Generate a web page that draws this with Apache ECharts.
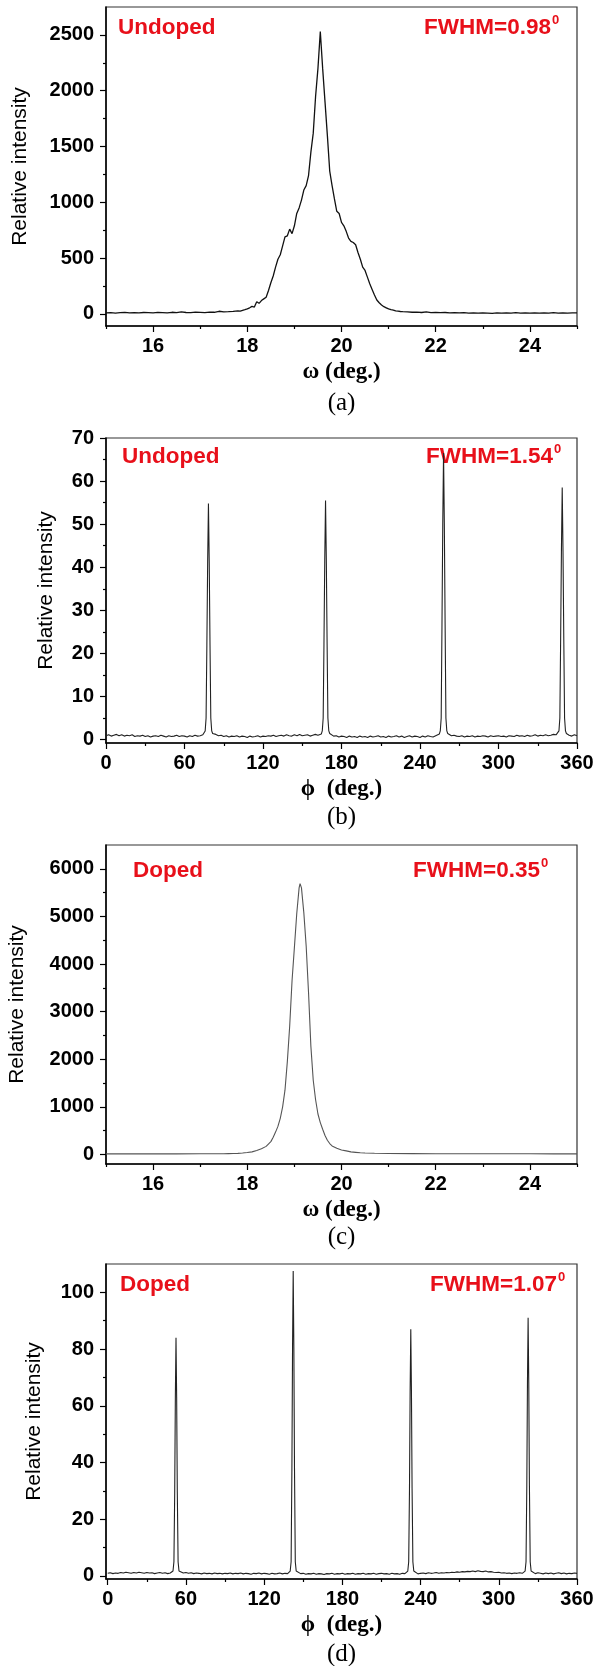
<!DOCTYPE html>
<html>
<head>
<meta charset="utf-8">
<script src="https://cdn.jsdelivr.net/npm/echarts@6/dist/echarts.min.js"></script>
<style>
  html, body { margin: 0; padding: 0; background: #fff; }
  #chart { width: 596px; height: 1666px; }
</style>
</head>
<body>
<div id="chart"></div>
<script>
// ---- tick labels ----
const omegaTicks = [16, 18, 20, 22, 24];
const omegaMinorTicks = [15, 17, 19, 21, 23, 25];
const phiTicks = [0, 60, 120, 180, 240, 300, 360];
const phiMinorTicks = [30, 90, 150, 210, 270, 330];
const intATicks = [0, 500, 1000, 1500, 2000, 2500];
const intAMinorTicks = [250, 750, 1250, 1750, 2250];
const intBTicks = [0, 10, 20, 30, 40, 50, 60, 70];
const intBMinorTicks = [5, 15, 25, 35, 45, 55, 65];
const intCTicks = [0, 1000, 2000, 3000, 4000, 5000, 6000];
const intCMinorTicks = [500, 1500, 2500, 3500, 4500, 5500];
const intDTicks = [0, 20, 40, 60, 80, 100];
const intDMinorTicks = [10, 30, 50, 70, 90];

// ---- (a) undoped omega scan [omega, intensity] ----
const omegaScanA = [
  [15.0,10],[15.1,12],[15.2,8],[15.3,11],[15.4,14],[15.5,9],[15.6,12],[15.7,10],[15.8,13],[15.9,11],
  [16.0,9],[16.1,14],[16.2,12],[16.3,10],[16.4,15],[16.5,12],[16.6,18],[16.7,13],[16.8,11],[16.9,16],
  [17.0,14],[17.1,12],[17.2,17],[17.3,15],[17.4,24],[17.5,18],[17.6,20],[17.7,23],[17.8,28],[17.85,25],
  [17.9,32],[17.95,38],[18.0,45],[18.05,55],[18.1,68],[18.15,62],[18.2,110],[18.25,95],[18.3,120],[18.35,135],
  [18.4,150],[18.45,210],[18.5,280],[18.55,340],[18.6,420],[18.65,490],[18.7,530],[18.75,610],[18.8,690],[18.85,700],
  [18.9,760],[18.95,720],[19.0,790],[19.05,900],[19.1,950],[19.15,1020],[19.2,1110],[19.25,1150],[19.3,1240],[19.35,1450],
  [19.4,1620],[19.45,1950],[19.5,2200],[19.55,2530],[19.6,2200],[19.65,1900],[19.7,1600],[19.75,1280],[19.8,1150],[19.85,1030],
  [19.9,920],[19.95,900],[20.0,820],[20.05,790],[20.1,740],[20.15,680],[20.2,650],[20.25,640],[20.3,620],[20.35,550],
  [20.4,490],[20.45,420],[20.5,390],[20.55,330],[20.6,270],[20.65,220],[20.7,170],[20.75,125],[20.8,100],[20.85,80],
  [20.9,65],[20.95,55],[21.0,45],[21.05,38],[21.1,35],[21.15,28],[21.2,25],[21.25,22],[21.3,20],[21.4,18],
  [21.5,15],[21.6,16],[21.7,13],[21.8,18],[21.9,12],[22.0,14],[22.1,11],[22.2,13],[22.3,10],[22.4,12],
  [22.5,9],[22.6,11],[22.7,8],[22.8,10],[22.9,7],[23.0,9],[23.1,8],[23.2,6],[23.3,9],[23.4,7],
  [23.5,10],[23.6,8],[23.7,11],[23.8,7],[23.9,9],[24.0,8],[24.1,10],[24.2,7],[24.3,9],[24.4,8],
  [24.5,11],[24.6,7],[24.7,9],[24.8,8],[24.9,10],[25.0,9]
];

// ---- (b) undoped phi scan [phi, intensity] ----
const phiScanB = [
  [0,0.9],[2,1.1],[4,0.8],[6,1.0],[8,1.2],[10,0.9],[12,1.1],[14,0.8],[16,1.0],[18,0.9],
  [20,1.1],[22,0.7],[24,0.9],[26,0.8],[28,1.0],[30,0.7],[32,0.9],[34,0.6],[36,0.8],[38,0.9],
  [40,0.7],[42,1.0],[44,0.8],[46,0.6],[48,0.9],[50,0.7],[52,0.8],[54,1.0],[56,0.7],[58,0.9],
  [60,0.8],[62,0.6],[64,0.9],[66,0.7],[68,1.0],[70,0.8],[72,0.9],[74,1.1],
  [75.1,1.3],[75.8,2.0],[76.5,5.0],[77.1,21.9],[77.7,41.1],[78.3,54.8],[78.9,41.1],[79.5,21.9],[80.1,5.0],[80.8,2.0],[81.5,1.4],
  [84,1.2],[86,0.9],[88,1.0],[90,0.7],[92,0.9],[94,0.6],[96,0.8],[98,0.7],[100,0.9],[102,0.6],
  [104,0.8],[106,0.7],[108,0.5],[110,0.8],[112,0.6],[114,0.7],[116,0.9],[118,0.6],[120,0.8],[122,0.7],
  [124,0.9],[126,0.8],[128,1.0],[130,0.7],[132,0.9],[134,1.0],[136,0.8],[138,1.1],[140,0.9],[142,0.8],
  [144,1.1],[146,0.9],[148,1.2],[150,0.9],[152,1.0],[154,1.1],[156,0.8],[158,1.0],[160,1.2],[162,1.0],
  [164.6,1.3],[165.3,2.0],[166.0,5.0],[166.6,22.2],[167.2,41.6],[167.8,55.5],[168.4,41.6],[169.0,22.2],[169.6,5.0],[170.3,2.0],[171.0,1.4],
  [172,1.0],[174,0.8],[176,0.9],[178,0.6],[180,0.8],[182,0.7],[184,0.5],[186,0.8],[188,0.6],[190,0.7],
  [192,0.5],[194,0.8],[196,0.6],[198,0.7],[200,0.5],[202,0.8],[204,0.6],[206,0.7],[208,0.9],[210,0.6],
  [212,0.7],[214,0.5],[216,0.8],[218,0.6],[220,0.7],[222,0.9],[224,0.6],[226,0.8],[228,0.5],[230,0.7],
  [232,0.9],[234,0.6],[236,0.8],[238,0.7],[240,0.5],[242,0.8],[244,0.6],[246,0.9],[248,0.7],[250,0.6],[252,0.9],
  [254.8,1.3],[255.5,2.0],[256.2,5.0],[256.8,26.6],[257.4,49.9],[258.0,66.5],[258.6,49.9],[259.2,26.6],[259.8,5.0],[260.5,2.0],[261.2,1.4],
  [262,1.1],[264,0.9],[266,1.0],[268,0.8],[270,0.7],[272,0.9],[274,0.6],[276,0.8],[278,0.7],[280,0.9],
  [282,0.6],[284,0.8],[286,0.7],[288,0.9],[290,0.8],[292,0.6],[294,0.9],[296,0.7],[298,0.8],[300,0.9],
  [302,0.7],[304,0.8],[306,0.6],[308,0.9],[310,0.8],[312,0.7],[314,1.0],[316,0.8],[318,0.9],[320,0.7],
  [322,1.0],[324,0.8],[326,0.9],[328,1.1],[330,0.8],[332,1.0],[334,0.9],[336,1.1],[338,0.9],[340,1.0],[342,1.2],[344,1.1],
  [345.5,1.4],[346.2,2.0],[346.9,5.0],[347.5,23.4],[348.1,43.9],[348.7,58.5],[349.3,43.9],[349.9,23.4],[350.5,5.0],[351.2,2.0],[351.9,1.4],
  [354,1.0],[356,0.8],[358,1.1],[360,0.9]
];

// ---- (c) doped omega scan ----
const omegaScanC = [
  [15.0,12],[15.5,12],[16.0,13],[16.5,13],[17.0,14],[17.5,16],[17.6,18],[17.7,20],[17.8,24],[17.9,30],
  [18.0,40],[18.1,55],[18.2,85],[18.3,120],[18.4,170],[18.5,270],[18.55,360],[18.6,470],[18.65,590],[18.7,760],
  [18.75,1000],[18.8,1350],[18.85,1950],[18.9,2700],[18.95,3650],[19.0,4350],[19.05,5060],[19.1,5600],[19.12,5690],[19.15,5600],
  [19.2,5080],[19.25,4380],[19.3,3400],[19.35,2270],[19.4,1560],[19.45,1150],[19.5,850],[19.55,670],[19.6,530],[19.65,400],
  [19.7,300],[19.75,230],[19.8,180],[19.9,130],[20.0,95],[20.1,75],[20.2,55],[20.3,45],[20.4,35],[20.5,30],
  [20.7,25],[21.0,20],[21.5,18],[22.0,16],[22.5,15],[23.0,15],[23.5,14],[24.0,14],[24.5,13],[25.0,13]
];

// ---- (d) doped phi scan ----
const phiScanD = [
  [0,0.9],[2,1.1],[4,0.8],[6,1.0],[8,0.9],[10,1.2],[12,1.0],[14,1.3],[16,1.1],[18,0.9],
  [20,1.2],[22,1.0],[24,1.3],[26,1.1],[28,0.9],[30,1.2],[32,1.0],[34,1.1],[36,0.8],[38,1.0],
  [40,1.2],[42,0.9],[44,1.1],[46,0.8],[48,1.0],
  [49.4,1.2],[50.1,1.7],[50.8,5.0],[51.4,29.4],[51.9,63.0],[52.4,84.0],[52.9,63.0],[53.4,29.4],[54.0,5.0],[54.7,1.7],[55.4,1.2],
  [58,1.0],[60,1.2],[62,0.9],[64,1.1],[66,0.8],[68,1.0],[70,0.9],[72,0.7],[74,1.0],[76,0.8],
  [78,0.9],[80,0.7],[82,1.0],[84,0.8],[86,0.9],[88,0.7],[90,0.9],[92,0.8],[94,1.0],[96,0.7],
  [98,0.9],[100,0.8],[102,1.0],[104,0.7],[106,0.9],[108,0.8],[110,0.6],[112,0.9],[114,0.8],[116,1.0],
  [118,0.7],[120,0.9],[122,0.8],[124,0.6],[126,0.9],[128,0.7],[130,0.8],[132,1.0],[134,0.7],[136,0.9],[138,0.8],
  [139.3,1.1],[140.0,1.7],[140.7,5.0],[141.3,37.6],[141.8,80.6],[142.3,107.5],[142.8,80.6],[143.3,37.6],[143.9,5.0],[144.6,1.7],[145.3,1.2],
  [148,0.8],[150,0.9],[152,0.6],[154,0.8],[156,0.7],[158,0.9],[160,0.6],[162,0.8],[164,0.7],[166,0.5],
  [168,0.8],[170,0.7],[172,0.9],[174,0.6],[176,0.8],[178,0.7],[180,0.9],[182,0.6],[184,0.8],[186,0.7],
  [188,0.9],[190,0.6],[192,0.8],[194,0.7],[196,0.9],[198,0.6],[200,0.8],[202,0.7],[204,0.9],[206,0.6],
  [208,0.8],[210,0.9],[212,0.7],[214,0.8],[216,0.6],[218,0.9],[220,0.7],[222,0.8],[224,0.6],[226,0.9],[228,0.8],
  [229.5,1.0],[230.2,1.7],[230.9,5.0],[231.5,30.5],[232.0,65.3],[232.5,87.0],[233.0,65.3],[233.5,30.5],[234.1,5.0],[234.8,1.7],[235.5,1.1],
  [238,0.7],[240,0.9],[242,1.0],[244,0.8],[246,1.1],[248,0.9],[250,1.0],[252,1.2],[254,0.9],[256,1.1],
  [258,1.0],[260,1.2],[262,1.1],[264,1.3],[266,1.2],[268,1.4],[270,1.3],[272,1.5],[274,1.4],[276,1.6],
  [278,1.5],[280,1.7],[282,1.5],[284,1.8],[286,1.6],[288,1.5],[290,1.7],[292,1.4],[294,1.5],[296,1.3],
  [298,1.2],[300,1.3],[302,1.0],[304,1.1],[306,0.9],[308,1.0],[310,0.8],[312,1.0],[314,0.9],[316,1.1],[318,0.9],
  [319.5,1.1],[320.2,1.7],[320.9,5.0],[321.5,31.9],[322.0,68.3],[322.5,91.0],[323.0,68.3],[323.5,31.9],[324.1,5.0],[324.8,1.7],[325.5,1.2],
  [328,0.8],[330,1.1],[332,0.9],[334,0.7],[336,1.0],[338,0.8],[340,1.0],[342,0.7],[344,0.9],[346,1.1],
  [348,0.8],[350,1.0],[352,0.7],[354,0.9],[356,0.8],[358,1.0],[360,0.9]
];

const SANS = '"Liberation Sans", Arial, sans-serif';
const SERIF = '"Liberation Serif", "Times New Roman", serif';
const RED = '#e8101a';

const panels = [
  { grid: { left: 106, top: 7, width: 471, height: 319 }, xRange: [15, 25], yRange: [-108, 2750],
    xTicks: omegaTicks, xMinor: omegaMinorTicks, yTicks: intATicks, yMinor: intAMinorTicks,
    xName: 'ω (deg.)', yGap: 75, data: omegaScanA, color: '#111', width: 1.3,
    tag: '(a)', tagY: 403, label: 'Undoped', labelX: 118, textY: 28, fwhm: 'FWHM=0.98', fwhmX: 551 },
  { grid: { left: 106, top: 438, width: 471, height: 305 }, xRange: [0, 360], yRange: [-0.8, 70],
    xTicks: phiTicks, xMinor: phiMinorTicks, yTicks: intBTicks, yMinor: intBMinorTicks,
    xName: 'ϕ  (deg.)', yGap: 49, data: phiScanB, color: '#222', width: 1.1,
    tag: '(b)', tagY: 817, label: 'Undoped', labelX: 122, textY: 457, fwhm: 'FWHM=1.54', fwhmX: 553 },
  { grid: { left: 106, top: 845, width: 471, height: 319 }, xRange: [15, 25], yRange: [-200, 6500],
    xTicks: omegaTicks, xMinor: omegaMinorTicks, yTicks: intCTicks, yMinor: intCMinorTicks,
    xName: 'ω (deg.)', yGap: 78, data: omegaScanC, color: '#555', width: 1.1,
    tag: '(c)', tagY: 1237, label: 'Doped', labelX: 133, textY: 871, fwhm: 'FWHM=0.35', fwhmX: 540 },
  { grid: { left: 106, top: 1264, width: 471, height: 315 }, xRange: [-1.3, 360], yRange: [-1.1, 110],
    xTicks: phiTicks, xMinor: phiMinorTicks, yTicks: intDTicks, yMinor: intDMinorTicks,
    xName: 'ϕ  (deg.)', yGap: 61, data: phiScanD, color: '#222', width: 1.1,
    tag: '(d)', tagY: 1654, label: 'Doped', labelX: 120, textY: 1285, fwhm: 'FWHM=1.07', fwhmX: 557 }
];

const grids = [], xAxes = [], yAxes = [], series = [], graphics = [];
const plain = v => String(v);

panels.forEach((p, i) => {
  grids.push(Object.assign({
    show: true, borderColor: '#333', borderWidth: 1.2, backgroundColor: 'transparent',
    containLabel: false, outerBoundsMode: 'none'
  }, p.grid));

  const xBase = { type: 'value', gridIndex: i, position: 'bottom', offset: 0,
    min: p.xRange[0], max: p.xRange[1], splitLine: { show: false } };
  const yBase = { type: 'value', gridIndex: i, position: 'left', offset: 0,
    min: p.yRange[0], max: p.yRange[1], splitLine: { show: false } };

  // major axes with labels
  xAxes.push(Object.assign({}, xBase, {
    axisLine: { onZero: false, lineStyle: { color: '#000', width: 1.5 } },
    axisTick: { length: 6, customValues: p.xTicks, lineStyle: { color: '#000', width: 1.2 } },
    axisLabel: { customValues: p.xTicks, formatter: plain, margin: 10, color: '#000', fontSize: 20, fontWeight: 'bold', fontFamily: SANS },
    name: p.xName, nameLocation: 'middle', nameGap: 35,
    nameTextStyle: { color: '#000', fontSize: 23, fontWeight: 'bold', fontFamily: SERIF }
  }));
  // minor ticks
  xAxes.push(Object.assign({}, xBase, {
    axisLine: { show: false, onZero: false },
    axisTick: { length: 3, customValues: p.xMinor, lineStyle: { color: '#000', width: 1.2 } },
    axisLabel: { show: false }
  }));

  yAxes.push(Object.assign({}, yBase, {
    axisLine: { onZero: false, lineStyle: { color: '#000', width: 1.5 } },
    axisTick: { length: 6, customValues: p.yTicks, lineStyle: { color: '#000', width: 1.2 } },
    axisLabel: { customValues: p.yTicks, formatter: plain, margin: 12, color: '#000', fontSize: 20, fontWeight: 'bold', fontFamily: SANS },
    name: 'Relative intensity', nameLocation: 'middle', nameGap: p.yGap,
    nameTextStyle: { color: '#000', fontSize: 21, fontFamily: SANS }
  }));
  yAxes.push(Object.assign({}, yBase, {
    axisLine: { show: false, onZero: false },
    axisTick: { length: 3, customValues: p.yMinor, lineStyle: { color: '#000', width: 1.2 } },
    axisLabel: { show: false }
  }));

  series.push({
    type: 'line', xAxisIndex: i * 2, yAxisIndex: i * 2, data: p.data,
    symbol: 'none', showSymbol: false, animation: false,
    lineStyle: { color: p.color, width: p.width }
  });

  const cx = p.grid.left + p.grid.width / 2;
  graphics.push(
    { type: 'text', x: cx, y: p.tagY,
      style: { text: p.tag, fill: '#000', font: '25px ' + SERIF, textAlign: 'center', textVerticalAlign: 'middle', align: 'center', verticalAlign: 'middle' } },
    { type: 'text', x: p.labelX, y: p.textY,
      style: { text: p.label, fill: RED, font: 'bold 22.5px ' + SANS, textAlign: 'left', textVerticalAlign: 'middle', align: 'left', verticalAlign: 'middle' } },
    { type: 'text', x: p.fwhmX, y: p.textY,
      style: { text: p.fwhm, fill: RED, font: 'bold 22.5px ' + SANS, textAlign: 'right', textVerticalAlign: 'middle', align: 'right', verticalAlign: 'middle' } },
    { type: 'text', x: p.fwhmX + 1, y: p.textY - 8,
      style: { text: '0', fill: RED, font: 'bold 13px ' + SANS, textAlign: 'left', textVerticalAlign: 'middle', align: 'left', verticalAlign: 'middle' } }
  );
});

const chart = echarts.init(document.getElementById('chart'), null, { renderer: 'canvas' });
chart.setOption({
  backgroundColor: '#fff',
  animation: false,
  grid: grids,
  xAxis: xAxes,
  yAxis: yAxes,
  series: series,
  graphic: graphics
});
</script>
</body>
</html>
